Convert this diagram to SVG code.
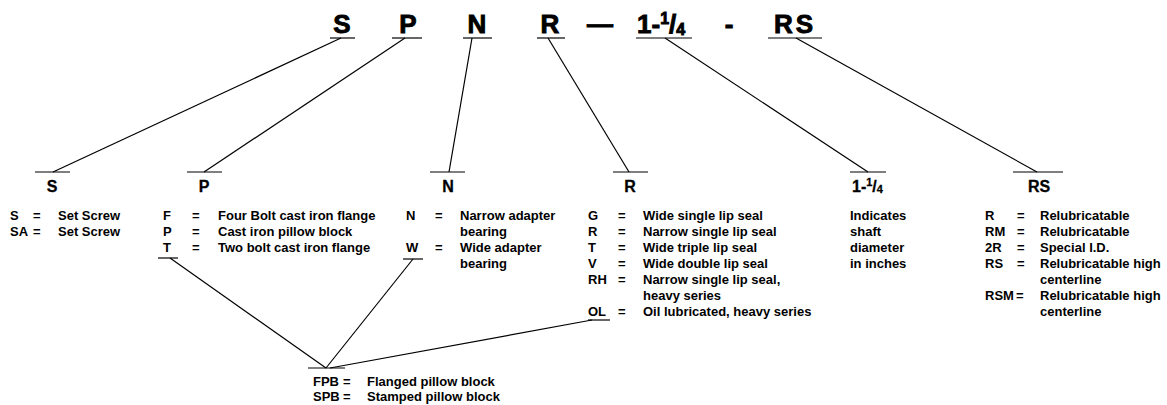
<svg xmlns="http://www.w3.org/2000/svg" width="1167" height="405" viewBox="0 0 1167 405">
<style>
text{font-family:"Liberation Sans",Arial,sans-serif;font-weight:bold;fill:#000}
.big{font-size:26px;stroke:#000;stroke-width:0.9}
.lbl{font-size:16px;stroke:#000;stroke-width:0.3}
.d{font-size:13px}
line{stroke:#000;stroke-width:1.2}
</style>
<rect width="1167" height="405" fill="#fff"/>
<g id="top-S"><text class="big" x="342" y="33" text-anchor="middle">S</text><line x1="330" y1="38" x2="355" y2="38"/></g>
<g id="top-P"><text class="big" x="408" y="33" text-anchor="middle">P</text><line x1="392" y1="38" x2="422" y2="38"/></g>
<g id="top-N"><text class="big" x="477" y="33" text-anchor="middle">N</text><line x1="463" y1="38" x2="492" y2="38"/></g>
<g id="top-R"><text class="big" x="550" y="33" text-anchor="middle">R</text><line x1="537" y1="38" x2="565" y2="38"/></g>
<g id="top-dash"><text class="big" x="600" y="33" text-anchor="middle">—</text></g>
<g id="top-size"><text class="big" x="637" y="33">1-<tspan font-size="16" dy="-9">1</tspan><tspan dy="9">/</tspan><tspan font-size="16" dy="2">4</tspan></text><line x1="636" y1="38" x2="692" y2="38"/></g>
<g id="top-hyphen"><text class="big" x="729" y="33" text-anchor="middle">-</text></g>
<g id="top-RS"><text class="big" x="795" y="33" text-anchor="middle" letter-spacing="3">RS</text><line x1="768" y1="38" x2="822" y2="38"/></g>

<g id="S"><line x1="35" y1="172" x2="70" y2="172"/><text class="lbl" x="52" y="192" text-anchor="middle">S</text>
<text class="d" x="10" y="220">S</text><text class="d" x="33" y="220">=</text><text class="d" x="58" y="220">Set Screw</text>
<text class="d" x="10" y="236">SA</text><text class="d" x="33" y="236">=</text><text class="d" x="58" y="236">Set Screw</text></g>

<g id="P"><line x1="187" y1="172" x2="222" y2="172"/><text class="lbl" x="204" y="192" text-anchor="middle">P</text>
<text class="d" x="163" y="220">F</text><text class="d" x="192" y="220">=</text><text class="d" x="218" y="220">Four Bolt cast iron flange</text>
<text class="d" x="163" y="236">P</text><text class="d" x="192" y="236">=</text><text class="d" x="218" y="236">Cast iron pillow block</text>
<text class="d" x="163" y="252">T</text><text class="d" x="192" y="252">=</text><text class="d" x="218" y="252">Two bolt cast iron flange</text>
<line x1="158" y1="258" x2="178" y2="258"/></g>

<g id="N"><line x1="430" y1="172" x2="465" y2="172"/><text class="lbl" x="448" y="192" text-anchor="middle">N</text>
<text class="d" x="406" y="220">N</text><text class="d" x="435" y="220">=</text><text class="d" x="460" y="220">Narrow adapter</text>
<text class="d" x="460" y="236">bearing</text>
<text class="d" x="406" y="252">W</text><text class="d" x="435" y="252">=</text><text class="d" x="460" y="252">Wide adapter</text>
<text class="d" x="460" y="268">bearing</text>
<line x1="403" y1="259" x2="423" y2="259"/></g>

<g id="R"><line x1="613" y1="172" x2="648" y2="172"/><text class="lbl" x="630" y="192" text-anchor="middle">R</text>
<text class="d" x="588" y="220">G</text><text class="d" x="618" y="220">=</text><text class="d" x="643" y="220">Wide single lip seal</text>
<text class="d" x="588" y="236">R</text><text class="d" x="618" y="236">=</text><text class="d" x="643" y="236">Narrow single lip seal</text>
<text class="d" x="588" y="252">T</text><text class="d" x="618" y="252">=</text><text class="d" x="643" y="252">Wide triple lip seal</text>
<text class="d" x="588" y="268">V</text><text class="d" x="618" y="268">=</text><text class="d" x="643" y="268">Wide double lip seal</text>
<text class="d" x="588" y="284">RH</text><text class="d" x="618" y="284">=</text><text class="d" x="643" y="284">Narrow single lip seal,</text>
<text class="d" x="643" y="300">heavy series</text>
<text class="d" x="588" y="316">OL</text><text class="d" x="618" y="316">=</text><text class="d" x="643" y="316">Oil lubricated, heavy series</text>
<line x1="588" y1="320" x2="610" y2="320"/></g>

<g id="size"><line x1="850" y1="172" x2="886" y2="172"/><text class="lbl" x="852" y="192">1-<tspan font-size="11" dy="-6">1</tspan><tspan dy="6">/</tspan><tspan font-size="11" dy="1">4</tspan></text>
<text class="d" x="850" y="220">Indicates</text>
<text class="d" x="850" y="236">shaft</text>
<text class="d" x="850" y="252">diameter</text>
<text class="d" x="850" y="268">in inches</text></g>

<g id="RS"><line x1="1013" y1="172" x2="1063" y2="172"/><text class="lbl" x="1039" y="192" text-anchor="middle">RS</text>
<text class="d" x="985" y="220">R</text><text class="d" x="1017" y="220">=</text><text class="d" x="1040" y="220">Relubricatable</text>
<text class="d" x="985" y="236">RM</text><text class="d" x="1017" y="236">=</text><text class="d" x="1040" y="236">Relubricatable</text>
<text class="d" x="985" y="252">2R</text><text class="d" x="1017" y="252">=</text><text class="d" x="1040" y="252">Special I.D.</text>
<text class="d" x="985" y="268">RS</text><text class="d" x="1017" y="268">=</text><text class="d" x="1040" y="268">Relubricatable high</text>
<text class="d" x="1040" y="284">centerline</text>
<text class="d" x="985" y="300">RSM</text><text class="d" x="1016" y="300">=</text><text class="d" x="1040" y="300">Relubricatable high</text>
<text class="d" x="1040" y="316">centerline</text></g>

<g id="FPB"><line x1="308" y1="368" x2="345" y2="368"/>
<text class="d" x="313" y="386">FPB</text><text class="d" x="343" y="386">=</text><text class="d" x="367" y="386">Flanged pillow block</text>
<text class="d" x="313" y="401">SPB</text><text class="d" x="343" y="401">=</text><text class="d" x="367" y="401">Stamped pillow block</text></g>

<g id="connectors">
<line x1="341" y1="38" x2="53" y2="172"/>
<line x1="405" y1="38" x2="204" y2="172"/>
<line x1="472" y1="38" x2="449" y2="172"/>
<line x1="548" y1="38" x2="629" y2="172"/>
<line x1="665" y1="38" x2="868" y2="172"/>
<line x1="796" y1="38" x2="1037" y2="172"/>
<line x1="170" y1="258" x2="326" y2="368"/>
<line x1="413" y1="259" x2="326" y2="368"/>
<line x1="592" y1="320" x2="330" y2="368"/>
</g>
</svg>
